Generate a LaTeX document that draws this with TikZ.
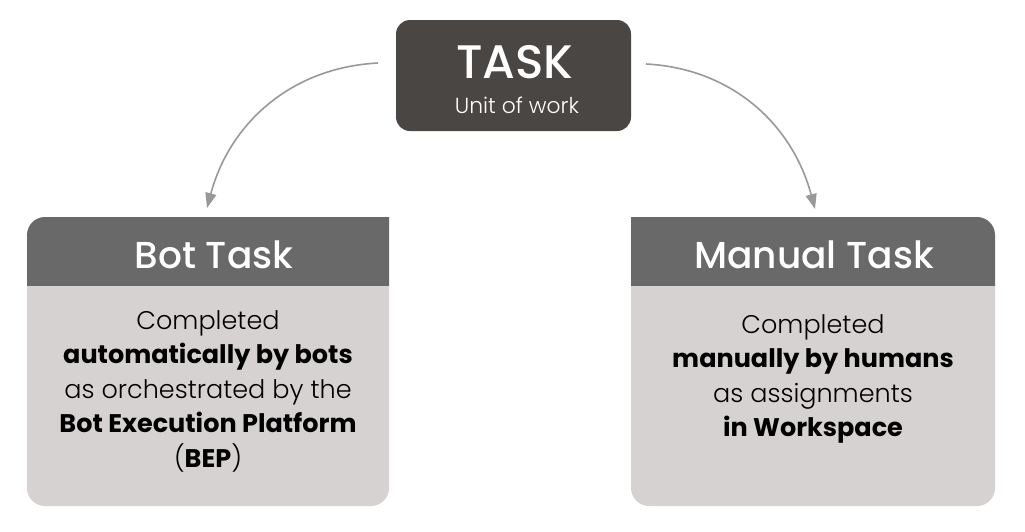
\documentclass[tikz,border=0pt]{standalone}
\usepackage{fontspec}
\setmainfont{Poppins}
\newfontfamily\plight{Poppins Light}
\newfontfamily\pmed{Poppins Medium}
\newfontfamily\pbold{Poppins Bold}
\usetikzlibrary{arrows.meta}
\definecolor{taskfill}{HTML}{4A4644}
\definecolor{hdrfill}{HTML}{696969}
\definecolor{bodyfill}{HTML}{D7D2D2}
\definecolor{arrgray}{HTML}{999999}
\tikzset{
  arr/.style={draw=arrgray, line width=1.6pt, -{Triangle[width=11pt,length=15pt]}},
  hdrtext/.style={text=white, font=\pmed\fontsize{37.5}{40}\selectfont},
  bodytext/.style={text=black, align=center, font=\plight\fontsize{25.5}{34.5}\selectfont},
}
\begin{document}
\begin{tikzpicture}[x=1pt,y=-1pt]
\useasboundingbox (0,0) rectangle (1025,531);
\fill[white] (0,0) rectangle (1025,531);
% TASK box
\fill[taskfill, rounded corners=14pt] (396,20) rectangle (631,131);
\node[text=white, font=\pmed\fontsize{47}{50}\selectfont] (task) at (515,62) {TASK};
\node[text=white, font=\plight\fontsize{21.8}{24}\selectfont] (unit) at (517,105) {Unit of work};
\coordinate (tl) at (378,63);
\coordinate (tr) at (646,64);
% Left box
\fill[hdrfill] (27,286) -- (27,235) arc[start angle=180,end angle=270,radius=18] -- (389,217) -- (389,286) -- cycle;
\fill[bodyfill] (27,286) -- (389,286) -- (389,488) arc[start angle=0,end angle=90,radius=18] -- (45,506) arc[start angle=90,end angle=180,radius=18] -- cycle;
\node[hdrtext] (bot) at (214,255) {Bot Task};
\node[bodytext] (botbody) at (208,391) {Completed\\ {\pbold automatically by bots}\\ as orchestrated by the\\ {\pbold Bot Execution Platform}\\ ({\pbold BEP})};
\coordinate (bl) at (207,208);
% Right box
\fill[hdrfill] (631,286) -- (631,217) -- (977,217) arc[start angle=270,end angle=360,radius=18] -- (995,286) -- cycle;
\fill[bodyfill] (631,286) -- (995,286) -- (995,488) arc[start angle=0,end angle=90,radius=18] -- (649,506) arc[start angle=90,end angle=180,radius=18] -- cycle;
\node[hdrtext] (man) at (814,255) {Manual Task};
\node[bodytext] (manbody) at (813,379) {Completed\\ {\pbold manually by humans}\\ as assignments\\ {\pbold in Workspace}};
\coordinate (br) at (815,209);
% arrows
\draw[arr] (tl) to[out=183, in=75] (bl);
\draw[arr] (tr) to[out=357, in=105] (br);
\end{tikzpicture}
\end{document}
